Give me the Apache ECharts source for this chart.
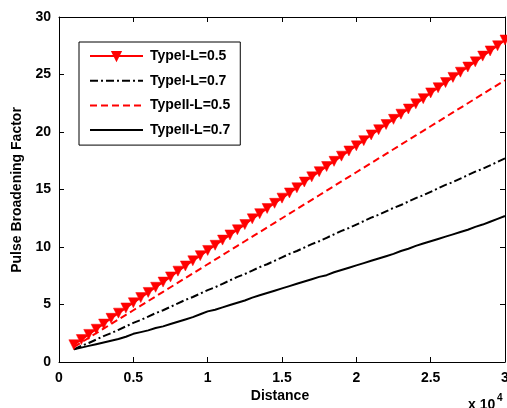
<!DOCTYPE html>
<html>
<head>
<meta charset="utf-8">
<script src="https://cdn.jsdelivr.net/npm/echarts@6/dist/echarts.min.js"></script>
<style>html,body{margin:0;padding:0;background:#fff;}#c{width:507px;height:408px;}</style>
</head>
<body>
<div id="c"></div>
<script>
// Distance (x 10^4)
const distances = [0.1,0.15,0.2,0.25,0.3,0.35,0.4,0.45,0.5,0.55,0.6,0.65,0.7,0.75,0.8,0.85,0.9,0.95,1.0,1.05,1.1,1.15,1.2,1.25,1.3,1.35,1.4,1.45,1.5,1.55,1.6,1.65,1.7,1.75,1.8,1.85,1.9,1.95,2.0,2.05,2.1,2.15,2.2,2.25,2.3,2.35,2.4,2.45,2.5,2.55,2.6,2.65,2.7,2.75,2.8,2.85,2.9,2.95,3.0];
const typeI_L05 = [1.5,1.95,2.4,2.85,3.3,3.8,4.25,4.7,5.15,5.6,6.05,6.5,6.95,7.4,7.9,8.35,8.8,9.25,9.7,10.15,10.6,11.05,11.5,11.95,12.45,12.9,13.35,13.8,14.25,14.7,15.15,15.65,16.1,16.55,17.0,17.45,17.9,18.35,18.8,19.25,19.75,20.2,20.65,21.1,21.55,22.0,22.45,22.9,23.4,23.85,24.3,24.75,25.2,25.65,26.1,26.6,27.05,27.5,28.0];
const typeI_L07 = [1.1,1.4,1.65,1.95,2.25,2.5,2.8,3.1,3.4,3.65,3.95,4.25,4.5,4.8,5.1,5.4,5.65,5.95,6.25,6.5,6.8,7.1,7.4,7.65,7.95,8.25,8.5,8.8,9.1,9.4,9.65,9.95,10.25,10.5,10.8,11.1,11.4,11.65,11.95,12.25,12.55,12.8,13.1,13.4,13.65,13.95,14.25,14.5,14.8,15.1,15.4,15.65,15.95,16.25,16.55,16.8,17.1,17.4,17.7];
const typeII_L05 = [1.3,1.7,2.1,2.5,2.9,3.3,3.7,4.1,4.5,4.9,5.3,5.7,6.1,6.5,6.9,7.3,7.7,8.1,8.5,8.9,9.3,9.7,10.1,10.5,10.9,11.3,11.7,12.1,12.5,12.9,13.3,13.7,14.1,14.5,14.9,15.3,15.7,16.1,16.5,16.9,17.3,17.7,18.1,18.5,18.9,19.3,19.7,20.1,20.5,20.9,21.3,21.7,22.1,22.5,22.9,23.3,23.7,24.1,24.5];
const typeII_L07 = [1.1,1.25,1.4,1.55,1.7,1.85,2.0,2.2,2.45,2.6,2.75,2.95,3.1,3.3,3.5,3.7,3.9,4.15,4.4,4.55,4.75,4.95,5.15,5.35,5.6,5.8,6.0,6.2,6.4,6.6,6.8,7.0,7.2,7.4,7.55,7.8,8.0,8.2,8.4,8.6,8.8,9.0,9.2,9.4,9.65,9.85,10.1,10.3,10.5,10.7,10.9,11.1,11.3,11.5,11.75,11.95,12.2,12.45,12.7];
const seriesNames = ['TypeI-L=0.5','TypeI-L=0.7','TypeII-L=0.5','TypeII-L=0.7'];
const xTicks = [0,0.5,1,1.5,2,2.5,3];
const yTicks = [0,5,10,15,20,25,30];

const pairs = arr => distances.map((d, i) => [d, arr[i]]);
const FONT = 'Liberation Sans, Arial, sans-serif';
const chart = echarts.init(document.getElementById('c'), null, {renderer: 'canvas'});

const axisCommon = {
  axisLine: {show: true, onZero: false, lineStyle: {color: '#000', width: 1}},
  axisTick: {show: true, inside: true, length: 5, lineStyle: {color: '#000'}},
  splitLine: {show: false}
};

chart.setOption({
  animation: false,
  backgroundColor: '#fff',
  grid: {left: 59, right: 2, top: 17, bottom: 46, containLabel: false, outerBoundsMode: 'none'},
  xAxis: [
    Object.assign({type: 'value', min: xTicks[0], max: xTicks[xTicks.length-1], interval: 0.5, position: 'bottom',
      axisLabel: {color: '#000', fontFamily: FONT, fontWeight: 'bold', fontSize: 14, margin: 9}}, axisCommon),
    Object.assign({type: 'value', min: xTicks[0], max: xTicks[xTicks.length-1], interval: 0.5, position: 'top',
      axisLabel: {show: false}}, axisCommon)
  ],
  yAxis: [
    Object.assign({type: 'value', min: yTicks[0], max: yTicks[yTicks.length-1], interval: 5, position: 'left',
      axisLabel: {color: '#000', fontFamily: FONT, fontWeight: 'bold', fontSize: 14, margin: 8}}, axisCommon),
    Object.assign({type: 'value', min: yTicks[0], max: yTicks[yTicks.length-1], interval: 5, position: 'right',
      axisLabel: {show: false}}, axisCommon)
  ],
  legend: {
    orient: 'vertical', left: 79, top: 42,
    padding: [7, 10, 8, 10],
    itemWidth: 53, itemHeight: 10, itemGap: 10.7,
    borderColor: '#000', borderWidth: 1, backgroundColor: '#fff',
    textStyle: {color: '#000', fontFamily: FONT, fontWeight: 'bold', fontSize: 14, padding: [0, 0, 0, 2]},
    data: [
      {name: seriesNames[0]},
      {name: seriesNames[1], itemStyle: {opacity: 0}},
      {name: seriesNames[2], itemStyle: {opacity: 0}},
      {name: seriesNames[3], itemStyle: {opacity: 0}}
    ]
  },
  series: [
    {name: seriesNames[0], type: 'line', data: pairs(typeI_L05), symbol: 'triangle', symbolRotate: 180, symbolSize: 10,
      showAllSymbol: true, z: 5,
      lineStyle: {color: '#ff0000', width: 2}, itemStyle: {color: '#ff0000', borderColor: '#ff0000', borderWidth: 0.5}},
    {name: seriesNames[1], type: 'line', data: pairs(typeI_L07), symbol: 'none', showSymbol: false,
      lineStyle: {color: '#000', width: 2, type: [8, 3, 2, 3]}, itemStyle: {color: '#000'}},
    {name: seriesNames[2], type: 'line', data: pairs(typeII_L05), symbol: 'none', showSymbol: false,
      lineStyle: {color: '#ff0000', width: 2, type: [7, 4]}, itemStyle: {color: '#ff0000'}},
    {name: seriesNames[3], type: 'line', data: pairs(typeII_L07), symbol: 'none', showSymbol: false,
      lineStyle: {color: '#000', width: 2}, itemStyle: {color: '#000'}}
  ],
  graphic: [
    {type: 'text', x: 17, y: 190, rotation: Math.PI/2,
      style: {text: 'Pulse Broadening Factor', fill: '#000', font: 'bold 14px ' + FONT, align: 'center', verticalAlign: 'middle'}},
    {type: 'text', x: 280, y: 396,
      style: {text: 'Distance', fill: '#000', font: 'bold 14px ' + FONT, align: 'center', verticalAlign: 'middle'}},
    {type: 'text', x: 468, y: 398,
      style: {text: 'x 10', fill: '#000', font: 'bold 14px ' + FONT, align: 'left', verticalAlign: 'top'}},
    {type: 'text', x: 497, y: 393,
      style: {text: '4', fill: '#000', font: 'bold 10px ' + FONT, align: 'left', verticalAlign: 'top'}}
  ]
});
</script>
</body>
</html>
